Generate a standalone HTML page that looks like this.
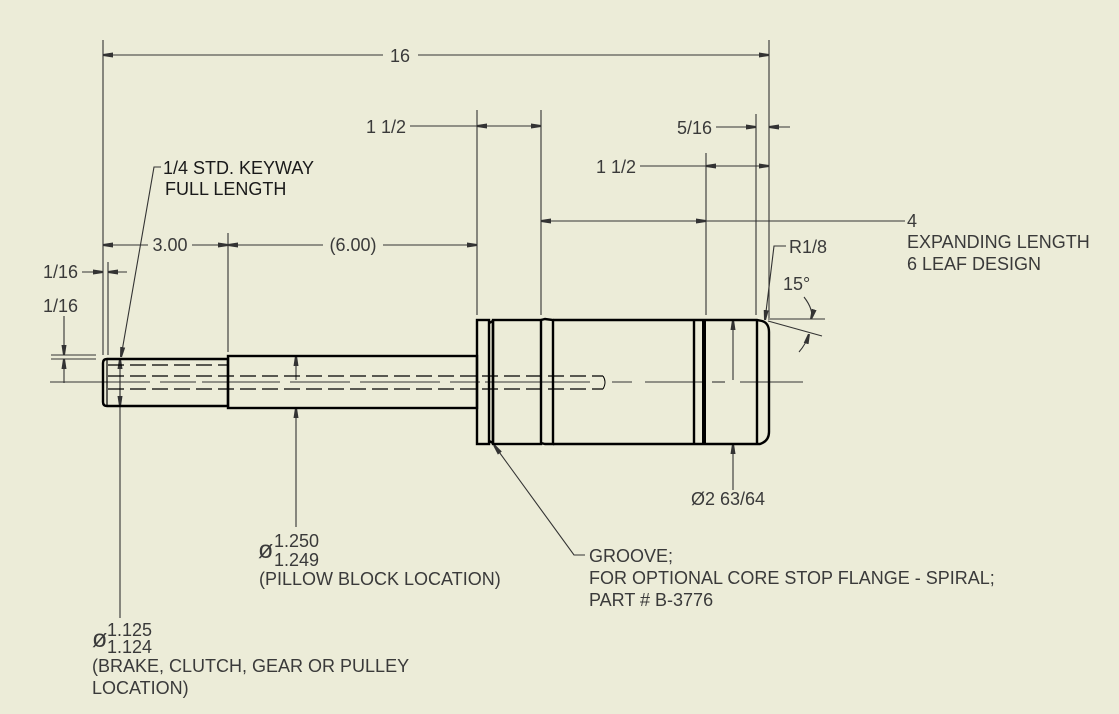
<!DOCTYPE html>
<html><head><meta charset="utf-8"><style>
html,body{margin:0;padding:0;background:#ECECD8;}
svg{display:block;}
text{font-family:"Liberation Sans",sans-serif;font-size:18px;fill:#3a3a3a;}
</style></head><body>
<svg width="1119" height="714" viewBox="0 0 1119 714" xmlns="http://www.w3.org/2000/svg">
<defs>
<marker id="a" viewBox="0 0 10 6" refX="10" refY="3" markerWidth="10" markerHeight="6" markerUnits="userSpaceOnUse" orient="auto-start-reverse"><path d="M0,0.5 L10,2 L10,4 L0,5.5 z" fill="#333"/></marker>
</defs>
<rect width="1119" height="714" fill="#ECECD8"/>
<g stroke="#333" stroke-width="1.1" fill="none">
<line x1="103" y1="40" x2="103" y2="355"/>
<line x1="769" y1="40" x2="769" y2="318"/>
<line x1="108" y1="262" x2="108" y2="355"/>
<line x1="228" y1="233" x2="228" y2="352"/>
<line x1="477" y1="110" x2="477" y2="315"/>
<line x1="541" y1="110" x2="541" y2="315"/>
<line x1="706" y1="153" x2="706" y2="315"/>
<line x1="756" y1="114" x2="756" y2="315"/>
<line x1="103" y1="55" x2="383" y2="55" marker-start="url(#a)"/>
<line x1="418" y1="55" x2="769" y2="55" marker-end="url(#a)"/>
<line x1="410" y1="126" x2="477" y2="126"/>
<line x1="477" y1="126" x2="541" y2="126" marker-start="url(#a)" marker-end="url(#a)"/>
<line x1="716" y1="127" x2="756" y2="127" marker-end="url(#a)"/>
<line x1="790" y1="127" x2="769" y2="127" marker-end="url(#a)"/>
<line x1="640" y1="166" x2="706" y2="166"/>
<line x1="706" y1="166" x2="769" y2="166" marker-start="url(#a)" marker-end="url(#a)"/>
<line x1="541" y1="221" x2="706" y2="221" marker-start="url(#a)" marker-end="url(#a)"/>
<line x1="706" y1="221" x2="905" y2="221"/>
<line x1="103" y1="245" x2="148" y2="245" marker-start="url(#a)"/>
<line x1="192" y1="245" x2="228" y2="245" marker-end="url(#a)"/>
<line x1="228" y1="245" x2="323" y2="245" marker-start="url(#a)"/>
<line x1="383" y1="245" x2="477" y2="245" marker-end="url(#a)"/>
<line x1="82" y1="272" x2="103" y2="272" marker-end="url(#a)"/>
<line x1="127" y1="272" x2="108" y2="272" marker-end="url(#a)"/>
<line x1="51" y1="355" x2="96" y2="355"/>
<line x1="51" y1="359" x2="96" y2="359"/>
<line x1="64" y1="316" x2="64" y2="355" marker-end="url(#a)"/>
<line x1="64" y1="383" x2="64" y2="359" marker-end="url(#a)"/>
<polyline points="161,167 154,167 121,357" marker-end="url(#a)"/>
<line x1="120" y1="618" x2="120" y2="359" marker-end="url(#a)"/>
<line x1="120" y1="380" x2="120" y2="406" marker-end="url(#a)"/>
<line x1="296" y1="527" x2="296" y2="408" marker-end="url(#a)"/>
<line x1="296" y1="380" x2="296" y2="356" marker-end="url(#a)"/>
<line x1="733" y1="490" x2="733" y2="444" marker-end="url(#a)"/>
<line x1="733" y1="380" x2="733" y2="320" marker-end="url(#a)"/>
<polyline points="585,555 574,555 494,445" marker-end="url(#a)"/>
<polyline points="786,246 774,246 765,320" marker-end="url(#a)"/>
<line x1="768" y1="319" x2="825" y2="319"/>
<line x1="768" y1="321" x2="822" y2="336"/>
<path d="M804,297 Q814,310 811,319" marker-end="url(#a)"/>
<path d="M799,352 Q806,344 809,334" marker-end="url(#a)"/>
<line x1="50" y1="382" x2="150" y2="382"/>
<line x1="160" y1="382" x2="196" y2="382"/>
<line x1="202" y1="382" x2="280" y2="382"/>
<line x1="290" y1="382" x2="350" y2="382"/>
<line x1="360" y1="382" x2="440" y2="382"/>
<line x1="450" y1="382" x2="480" y2="382"/>
<line x1="485" y1="382" x2="590" y2="382"/>
<line x1="612" y1="382" x2="632" y2="382"/>
<line x1="645" y1="382" x2="705" y2="382"/>
<line x1="712" y1="382" x2="725" y2="382"/>
<line x1="740" y1="382" x2="803" y2="382"/>
</g>
<g stroke="#000" stroke-width="2.4" fill="none">
<path d="M107,359 L228,359 L228,406 L107,406 Q103,406 103,402 L103,363 Q103,359 107,359 Z"/>
<line x1="107" y1="360" x2="107" y2="405" stroke-width="1.2"/>
<rect x="228" y="356" width="249" height="52"/>
<rect x="477" y="320" width="12" height="124"/>
<path d="M489,323 L493,321 L493,443 L489,441"/>
<rect x="493" y="320" width="48" height="124"/>
<path d="M541,320 L545,319 L553,320 L553,444 L545,444 L541,443"/>
<line x1="553" y1="320" x2="694" y2="320"/>
<line x1="553" y1="444" x2="694" y2="444"/>
<line x1="694" y1="320" x2="694" y2="444"/>
<line x1="704" y1="320" x2="704" y2="444" stroke-width="4"/>
<path d="M694,320 L757,320 L762,321 Q769,323 769,332 L769,432 Q769,441 760,444 L694,444"/>
<line x1="757" y1="320" x2="757" y2="444"/>
</g>
<g stroke="#000" stroke-width="1.2" fill="none" stroke-dasharray="16,6">
<line x1="108" y1="365" x2="228" y2="365"/>
<line x1="108" y1="376" x2="603" y2="376"/>
<line x1="108" y1="389" x2="603" y2="389"/>
</g>
<path d="M603,376 Q607,382 603,389" stroke="#000" fill="none" stroke-width="1"/>
<text x="400" y="62" text-anchor="middle">16</text>
<text x="406" y="133" text-anchor="end">1 1/2</text>
<text x="712" y="134" text-anchor="end">5/16</text>
<text x="636" y="173" text-anchor="end">1 1/2</text>
<text x="907" y="227">4</text>
<text x="907" y="248">EXPANDING LENGTH</text>
<text x="907" y="270">6 LEAF DESIGN</text>
<text x="789" y="253">R1/8</text>
<text x="783" y="290">15°</text>
<text x="163" y="174" style="fill:#1a1a1a">1/4 STD. KEYWAY</text>
<text x="165" y="195" style="fill:#1a1a1a">FULL LENGTH</text>
<text x="170" y="251" text-anchor="middle">3.00</text>
<text x="353" y="251" text-anchor="middle">(6.00)</text>
<text x="78" y="278" text-anchor="end">1/16</text>
<text x="78" y="312" text-anchor="end">1/16</text>
<text x="691" y="505">Ø2 63/64</text>
<text x="258" y="558" style="font-size:25px">ø</text>
<text x="274" y="547">1.250</text>
<text x="274" y="566">1.249</text>
<text x="259" y="585">(PILLOW BLOCK LOCATION)</text>
<text x="92" y="647" style="font-size:25px">ø</text>
<text x="107" y="636">1.125</text>
<text x="107" y="653">1.124</text>
<text x="92" y="672">(BRAKE, CLUTCH, GEAR OR PULLEY</text>
<text x="92" y="694">LOCATION)</text>
<text x="589" y="562">GROOVE;</text>
<text x="589" y="584">FOR OPTIONAL CORE STOP FLANGE - SPIRAL;</text>
<text x="589" y="606">PART # B-3776</text>
</svg>
</body></html>
